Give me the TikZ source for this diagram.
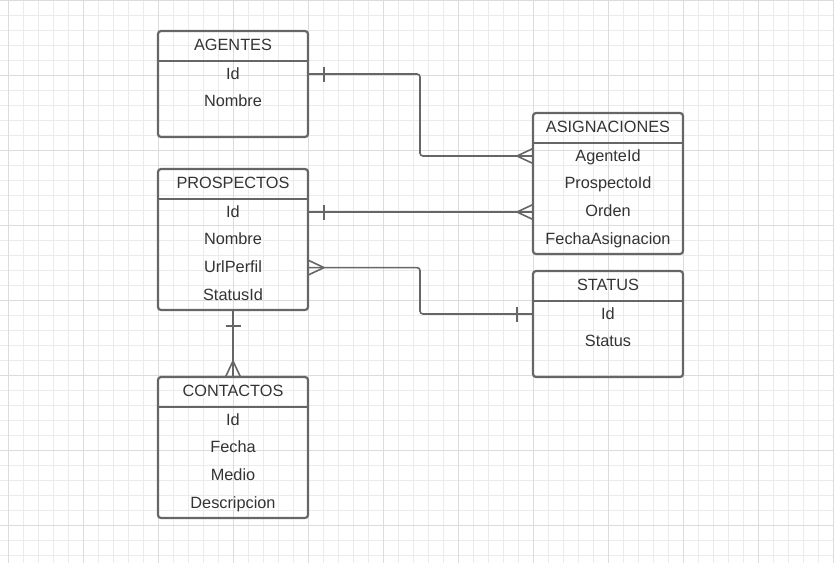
\documentclass[tikz,border=0pt]{standalone}
\usepackage{fontspec}
\setmainfont{Liberation Sans}
\definecolor{gridminor}{HTML}{EBEBEB}
\definecolor{gridmajor}{HTML}{DCDCDC}
\definecolor{edgec}{HTML}{666666}
\definecolor{txtc}{HTML}{333333}
\tikzset{
  entbox/.style={draw=edgec, line width=2.2pt, rounded corners=3pt, minimum width=150pt, inner sep=0pt, outer sep=0pt, anchor=north west},
  lbl/.style={text=txtc, font=\fontsize{16.3}{19}\selectfont, inner sep=0pt, text height=10pt, text depth=0pt, anchor=base},
  hdrline/.style={draw=edgec, line width=2.2pt},
  conn/.style={draw=edgec, line width=1.6pt},
  minorgrid/.style={draw=gridminor, line width=1pt},
  majorgrid/.style={draw=gridmajor, line width=1pt},
}
\begin{document}
\begin{tikzpicture}[x=1pt,y=-1pt]
\useasboundingbox (0,0) rectangle (834,563);
% grid
\foreach \x in {8,23,...,833} \draw[minorgrid] (\x,0) -- (\x,563);
\foreach \y in {0,15,...,560} \draw[minorgrid] (0,\y) -- (834,\y);
\foreach \x in {8,83,...,833} \draw[majorgrid] (\x,0) -- (\x,563);
\foreach \y in {0,75,...,560} \draw[majorgrid] (0,\y) -- (834,\y);

% AGENTES
\node[entbox, minimum height=106pt] (ag) at (158,31) {};
\draw[hdrline] ([yshift=-30pt]ag.north west) -- ([yshift=-30pt]ag.north east);
\node[lbl] (agt) at ([yshift=-19pt]ag.north) {AGENTES};
\node[lbl] (agid) at ([yshift=-48pt]ag.north) {Id};
\node[lbl] (agnom) at ([yshift=-75.8pt]ag.north) {Nombre};

% PROSPECTOS
\node[entbox, minimum height=141pt] (pr) at (158,169) {};
\draw[hdrline] ([yshift=-30pt]pr.north west) -- ([yshift=-30pt]pr.north east);
\node[lbl] (prt) at ([yshift=-19pt]pr.north) {PROSPECTOS};
\node[lbl] (prid) at ([yshift=-48pt]pr.north) {Id};
\node[lbl] (prnom) at ([yshift=-75.8pt]pr.north) {Nombre};
\node[lbl] (prurl) at ([yshift=-103.6pt]pr.north) {UrlPerfil};
\node[lbl] (prst) at ([yshift=-131.4pt]pr.north) {StatusId};

% ASIGNACIONES
\node[entbox, minimum height=141pt] (as) at (533,113) {};
\draw[hdrline] ([yshift=-30pt]as.north west) -- ([yshift=-30pt]as.north east);
\node[lbl] (ast) at ([yshift=-19pt]as.north) {ASIGNACIONES};
\node[lbl] (asag) at ([yshift=-48pt]as.north) {AgenteId};
\node[lbl] (aspr) at ([yshift=-75.8pt]as.north) {ProspectoId};
\node[lbl] (asor) at ([yshift=-103.6pt]as.north) {Orden};
\node[lbl] (asfe) at ([yshift=-131.4pt]as.north) {FechaAsignacion};

% STATUS
\node[entbox, minimum height=106pt] (st) at (533,271) {};
\draw[hdrline] ([yshift=-30pt]st.north west) -- ([yshift=-30pt]st.north east);
\node[lbl] (stt) at ([yshift=-19pt]st.north) {STATUS};
\node[lbl] (stid) at ([yshift=-48pt]st.north) {Id};
\node[lbl] (ststa) at ([yshift=-75.8pt]st.north) {Status};

% CONTACTOS
\node[entbox, minimum height=141pt] (co) at (158,377) {};
\draw[hdrline] ([yshift=-30pt]co.north west) -- ([yshift=-30pt]co.north east);
\node[lbl] (cot) at ([yshift=-19pt]co.north) {CONTACTOS};
\node[lbl] (coid) at ([yshift=-48pt]co.north) {Id};
\node[lbl] (cofe) at ([yshift=-75.8pt]co.north) {Fecha};
\node[lbl] (come) at ([yshift=-103.6pt]co.north) {Medio};
\node[lbl] (code) at ([yshift=-131.4pt]co.north) {Descripcion};

% AGENTES -> ASIGNACIONES
\draw[conn, rounded corners=3pt] (ag.east |- agid) -- ++(112,0) |- (as.west |- asag);
\draw[conn] (ag.east |- agid) ++(16,-7.5) -- ++(0,15);
\draw[conn] (as.west |- asag) ++(-16,0) -- ++(16,-7.5) ++(-16,7.5) -- ++(16,7.5);

% PROSPECTOS -> ASIGNACIONES
\draw[conn] (pr.east |- prid) -- (as.west |- prid);
\draw[conn] (pr.east |- prid) ++(16,-7.5) -- ++(0,15);
\draw[conn] (as.west |- prid) ++(-16,0) -- ++(16,-7.5) ++(-16,7.5) -- ++(16,7.5);

% PROSPECTOS -> STATUS
\draw[conn, rounded corners=3pt] (pr.east |- prurl) -- ++(112,0) |- (st.west |- stid);
\draw[conn] (pr.east |- prurl) ++(16,0) -- ++(-16,-7.5) ++(16,7.5) -- ++(-16,7.5);
\draw[conn] (st.west |- stid) ++(-16,-7.5) -- ++(0,15);

% PROSPECTOS -> CONTACTOS
\draw[conn] (pr.south) -- (co.north);
\draw[conn] (pr.south) ++(-7.5,16) -- ++(15,0);
\draw[conn] (co.north) ++(0,-16) -- ++(-7.5,16) ++(7.5,-16) -- ++(7.5,16);
\end{tikzpicture}
\end{document}
